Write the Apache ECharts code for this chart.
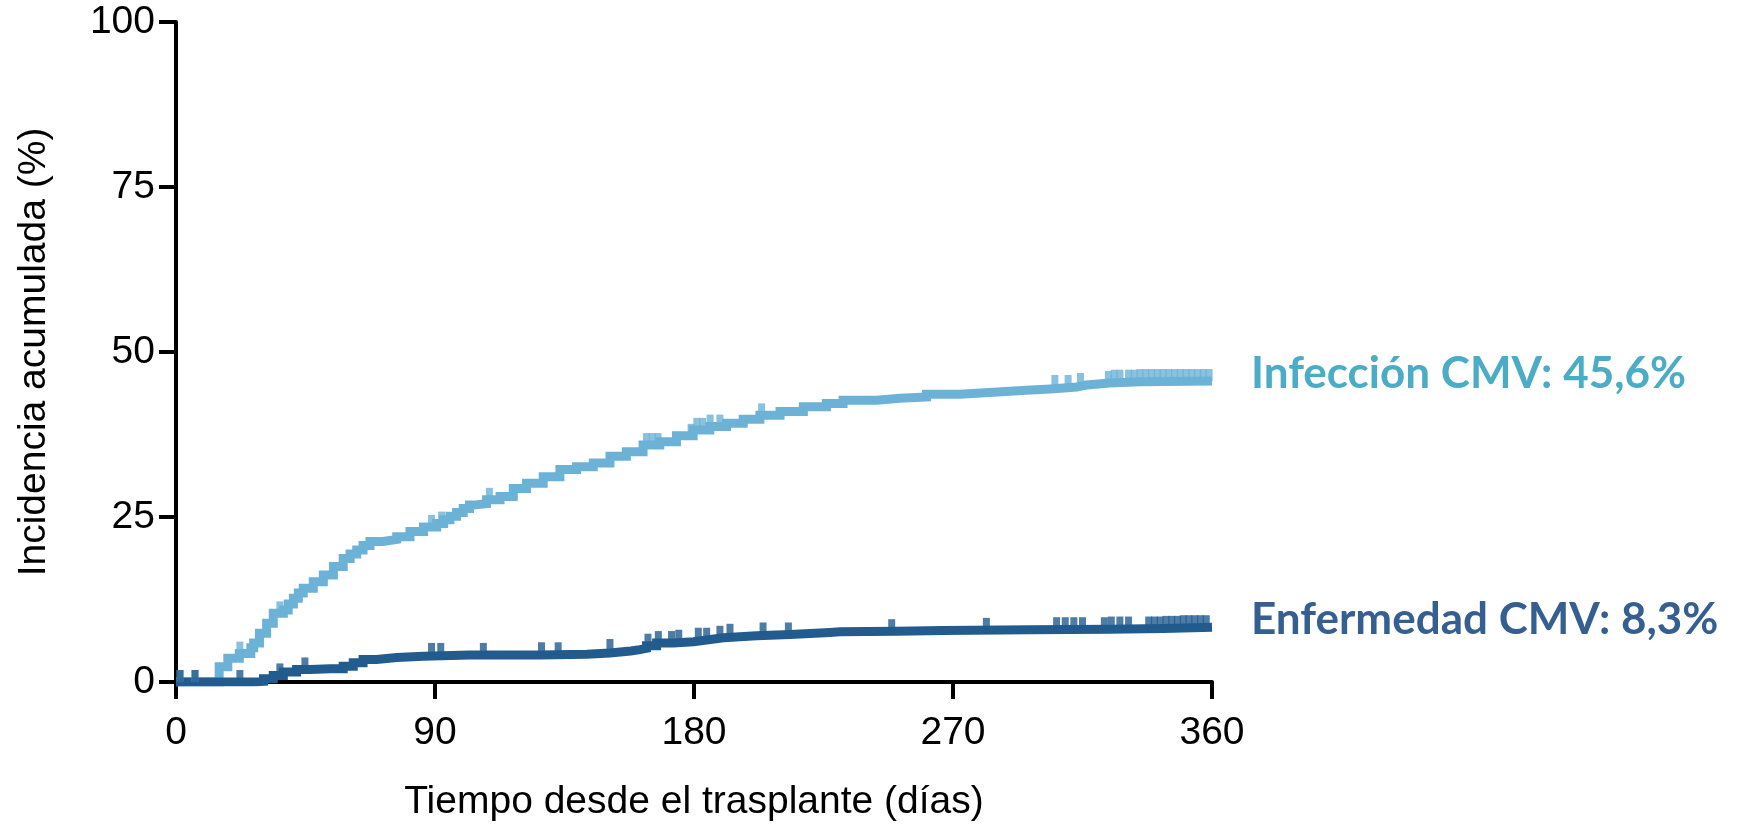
<!DOCTYPE html>
<html>
<head>
<meta charset="utf-8">
<script src="https://cdn.jsdelivr.net/npm/echarts@6/dist/echarts.min.js"></script>
<style>
  html, body { margin: 0; padding: 0; background: #ffffff; }
  #chart { width: 1739px; height: 828px; }
</style>
</head>
<body>
<div id="chart"></div>
<script>
// Cumulative incidence of CMV infection / disease after transplant
const xTicks = [0, 90, 180, 270, 360];
const yTicks = [0, 25, 50, 75, 100];

const infeccionName = 'Infección CMV';
const infeccionDays = [0, 14, 15, 18, 22, 26, 27, 29, 31.5, 33.8, 37.3, 39, 40.8, 42.5, 44.2, 47.7, 51.2, 54.7, 58.1, 60.5, 62.8, 65, 67.4, 72, 76.7, 81.3, 86, 90.6, 93, 95.2, 97.5, 99.8, 102, 103.3, 107.9, 112.6, 117.2, 121.8, 127.6, 133.4, 139.2, 145, 150.8, 156.5, 162.3, 168.1, 173.9, 179.7, 185.5, 191.3, 197.1, 202.9, 209.9, 218, 226, 231.8, 243.4, 251.6, 260.8, 272.4, 284, 295.5, 303.7, 313, 316.4, 324.5, 335, 360];
const infeccionPct  = [0, 0, 2.3, 3.6, 4.3, 5.2, 5.9, 7.4, 8.9, 10.4, 10.9, 11.8, 12.7, 13.5, 14.2, 15.2, 16.2, 17.5, 18.7, 19.4, 20.0, 20.7, 21.3, 21.6, 22.0, 22.8, 23.5, 24.0, 24.6, 25.1, 25.7, 26.3, 26.8, 27.0, 27.6, 28.1, 29.3, 30.1, 31.1, 32.2, 32.6, 33.2, 34.2, 34.9, 35.9, 36.4, 37.3, 38.2, 38.7, 39.2, 39.8, 40.4, 41.0, 41.7, 42.2, 42.7, 43.0, 43.2, 43.6, 43.9, 44.2, 44.4, 44.7, 45.0, 45.3, 45.5, 45.6, 45.6];
const infeccionCensored = [1.4, 6.6, 22.2, 36.1, 88.8, 92.3, 108.9, 163.5, 165.5, 167.5, 179, 181, 183, 185.6, 189, 203.5, 305.4, 310, 314.3, 324, 326, 328, 331, 333, 335, 337, 339, 341, 343, 345, 347, 349, 351, 353, 355, 357, 359];

const enfermedadName = 'Enfermedad CMV';
const enfermedadDays = [0, 25, 27, 30.4, 33.8, 37.3, 41.9, 46.6, 53.5, 58.1, 61.6, 65, 69.7, 76.7, 86, 102, 110.3, 126.5, 142.7, 150.8, 158, 161.2, 163.5, 167, 172.8, 179.8, 185, 190.2, 201.7, 213.3, 227.2, 230.7, 250.4, 266.6, 296.7, 324.5, 343, 350, 360];
const enfermedadPct  = [0, 0, 0.1, 0.5, 1.0, 1.5, 1.9, 2.0, 2.0, 2.4, 2.9, 3.4, 3.7, 3.9, 4.1, 4.1, 4.1, 4.2, 4.4, 4.7, 4.9, 5.1, 5.5, 5.9, 6.1, 6.4, 6.7, 7.0, 7.2, 7.5, 7.6, 7.7, 7.8, 7.9, 8.0, 8.1, 8.2, 8.3, 8.3];
const enfermedadCensored = [1.4, 6.6, 22.2, 36.1, 44.8, 88.8, 92, 106.8, 127, 132.8, 150.8, 164, 167.6, 172.2, 174.7, 181.5, 184.4, 189, 192.5, 204, 212.8, 248.7, 281.6, 306, 309, 312, 315, 322.6, 325, 328, 331, 338, 340, 342, 344, 346, 348, 350, 352, 354, 356, 358];

const colorInfeccion = '#6cb2d6';
const colorEnfermedad = '#225b8e';
const labelInfeccion = '#4bacc6';
const labelEnfermedad = '#365f91';

function pairs(xs, ys) { return xs.map((x, i) => [x, ys[i]]); }

// value of the step curve (step after each event) at a given day
function stepAt(xs, ys, d) {
  let v = ys[0];
  for (let i = 0; i < xs.length; i++) { if (xs[i] <= d) v = ys[i]; else break; }
  return v;
}

function pctText(v) { return v.toFixed(1).replace('.', ',') + '%'; }

const axisFont = { fontFamily: 'Liberation Sans, Arial, Helvetica, sans-serif', fontSize: 39, color: '#000' };

function curveSeries(name, xs, ys, color, labelColor) {
  return {
    name: name,
    type: 'line',
    step: 'end',
    data: pairs(xs, ys),
    showSymbol: false,
    lineStyle: { color: color, width: 9, cap: 'butt', join: 'miter' },
    endLabel: {
      show: true,
      distance: 39,
      offset: [0, -7],
      formatter: p => name + ': ' + pctText(p.value[1]),
      color: labelColor,
      fontFamily: 'Lato, "Open Sans", sans-serif',
      fontWeight: 'bold',
      fontSize: 44
    },
    emphasis: { disabled: true },
    z: 2
  };
}

function censorSeries(name, xs, ys, days, color) {
  return {
    name: name + ' censurados',
    type: 'scatter',
    data: days.map(d => [d, stepAt(xs, ys, d)]),
    symbol: 'rect',
    symbolSize: [7, 12],
    symbolOffset: [0, -6],
    itemStyle: { color: color },
    emphasis: { disabled: true },
    z: 3
  };
}

const chart = echarts.init(document.getElementById('chart'), null, { renderer: 'canvas' });
chart.setOption({
  animation: false,
  backgroundColor: '#ffffff',
  grid: { left: 176, right: 527, top: 22, bottom: 146, containLabel: false },
  xAxis: {
    type: 'value',
    min: xTicks[0], max: xTicks[xTicks.length - 1], interval: 90,
    name: 'Tiempo desde el trasplante (días)',
    nameLocation: 'middle',
    nameGap: 101,
    nameTextStyle: axisFont,
    axisLine: { show: true, lineStyle: { color: '#000', width: 4 } },
    axisTick: { show: true, length: 17, lineStyle: { color: '#000', width: 4 } },
    axisLabel: Object.assign({ margin: 32 }, axisFont),
    splitLine: { show: false }
  },
  yAxis: {
    type: 'value',
    min: yTicks[0], max: yTicks[yTicks.length - 1], interval: 25,
    name: 'Incidencia acumulada (%)',
    nameLocation: 'middle',
    nameGap: 122,
    nameRotate: 90,
    nameTextStyle: axisFont,
    axisLine: { show: true, lineStyle: { color: '#000', width: 4 } },
    axisTick: { show: true, length: 17, lineStyle: { color: '#000', width: 4 } },
    axisLabel: Object.assign({ margin: 21 }, axisFont),
    splitLine: { show: false }
  },
  series: [
    curveSeries(infeccionName, infeccionDays, infeccionPct, colorInfeccion, labelInfeccion),
    censorSeries(infeccionName, infeccionDays, infeccionPct, infeccionCensored, colorInfeccion),
    curveSeries(enfermedadName, enfermedadDays, enfermedadPct, colorEnfermedad, labelEnfermedad),
    censorSeries(enfermedadName, enfermedadDays, enfermedadPct, enfermedadCensored, colorEnfermedad)
  ]
});
</script>
</body>
</html>
